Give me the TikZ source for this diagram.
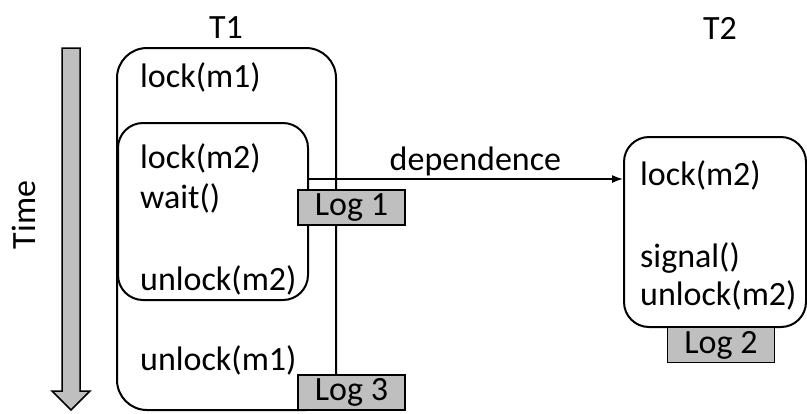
\documentclass[tikz,border=0pt]{standalone}
\usepackage{fontspec}
\setmainfont{Carlito}
\usetikzlibrary{arrows.meta}
\begin{document}
\begin{tikzpicture}[x=1pt,y=-1pt,
  every node/.style={font=\fontsize{34}{40}\selectfont, inner sep=0pt},
  txt/.style={anchor=base west},
  thread/.style={draw, line width=2pt, rounded corners=#1},
  logbox/.style={draw, line width=1.6pt, fill=black!25, minimum width=107pt, minimum height=35pt}]
  \useasboundingbox (0,0) rectangle (807,413);

  % time axis
  \draw[line width=1.5pt, fill=black!25, line join=miter]
    (62,48) -- (80,48) -- (80,391) -- (90,391) -- (71,410) -- (52,391) -- (62,391) -- cycle;
  \node[rotate=90] (timelbl) at (24,215) {Time};

  % thread T1
  \node (t1lbl) at (226,28) {T1};
  \node[thread=30pt, minimum width=219pt, minimum height=362pt] (outer) at (226.5,229) {};
  \node[thread=25pt, minimum width=190pt, minimum height=177pt] (inner) at (213,211.5) {};
  \node[txt] (l1) at (140,87) {lock(m1)};
  \node[txt] (l2) at (140,168) {lock(m2)};
  \node[txt] (w) at (140,208) {wait()};
  \node[txt] (u2) at (140,290) {unlock(m2)};
  \node[txt] (u1) at (140,370) {unlock(m1)};

  % thread T2
  \node (t2lbl) at (720,28) {T2};
  \node[thread=25pt, minimum width=182pt, minimum height=190pt] (t2) at (715,232) {};
  \node[txt] (tl2) at (640,185) {lock(m2)};
  \node[txt] (sg) at (640,267) {signal()};
  \node[txt] (tu2) at (640,305) {unlock(m2)};

  % dependence edge
  \coordinate (depstart) at ([yshift=32.5pt]inner.east);
  \draw[line width=1.5pt, -{Latex[length=11pt,width=8pt]}] (depstart) -- (depstart -| t2.west)
    node[pos=0.53, above=2pt] (deplbl) {dependence};

  % logs
  \node[logbox] (log1) at (351.5,207.5) {Log 1};
  \node[logbox] (log3) at (351.5,392.5) {Log 3};
  \node[logbox] (log2) at (721,345) {Log 2};
\end{tikzpicture}
\end{document}
